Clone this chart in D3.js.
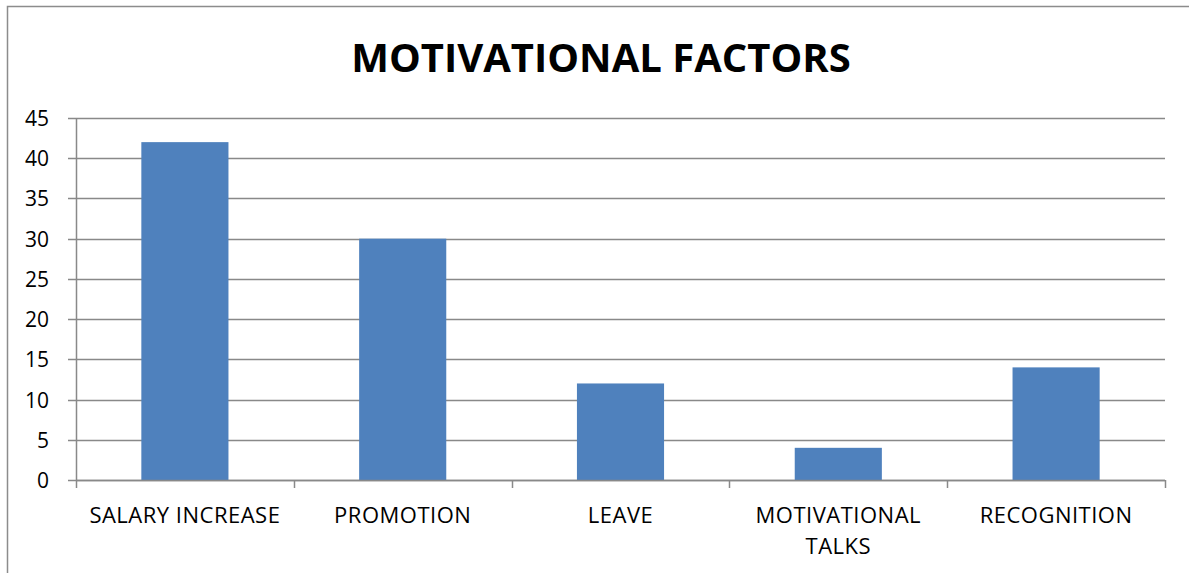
<!DOCTYPE html>
<html>
<head>
<meta charset="utf-8">
<script src="https://cdn.jsdelivr.net/npm/d3@7"></script>
<style>
body { margin: 0; background: #fff; }
text { font-family: "Open Sans", "Liberation Sans", sans-serif; }
</style>
</head>
<body>
<script>
var width = 1189;
var height = 573;

var categories = ["SALARY INCREASE", "PROMOTION", "LEAVE", "MOTIVATIONAL TALKS", "RECOGNITION"];
var values = [42, 30, 12, 4, 14];
var yTicks = [0, 5, 10, 15, 20, 25, 30, 35, 40, 45];
var title = "MOTIVATIONAL FACTORS";

var barcolor = "#4f81bd";
var gridcolor = "#898989";
var textcolor = "#000";

var plotLeft = 76, plotRight = 1165, plotTop = 118, plotBottom = 480;

var svg = d3.select("body")
	.append("svg")
	.attr("width", width)
	.attr("height", height)

// chart frame
svg.append("rect")
	.attr("x", 7.5)
	.attr("y", 6.5)
	.attr("width", width + 10)
	.attr("height", height + 10)
	.style("fill", "#fff")
	.style("stroke", "#8c8c8c")
	.style("stroke-width", 1.5)

var x = d3.scaleBand()
	.domain(categories)
	.range([plotLeft, plotRight])
	.paddingInner(0.6)
	.paddingOuter(0.3);

var xEdges = d3.scaleLinear().domain([0, categories.length]).range([plotLeft, plotRight]);

var y = d3.scaleLinear()
	.domain([0, 45])
	.range([plotBottom, plotTop]);

// gridlines + y ticks
svg.append("g").selectAll("line")
	.data(yTicks)
	.enter().append("line")
	.attr("x1", plotLeft - 8)
	.attr("x2", plotRight)
	.attr("y1", d => Math.round(y(d)) + 0.5)
	.attr("y2", d => Math.round(y(d)) + 0.5)
	.style("stroke", gridcolor)
	.style("stroke-width", 1.5)

svg.append("g").selectAll("text")
	.data(yTicks)
	.enter().append("text")
	.attr("x", plotLeft - 27)
	.attr("y", d => y(d))
	.attr("text-anchor", "end")
	.attr("dominant-baseline", "central")
	.attr("font-size", "21px")
	.attr("fill", textcolor)
	.text(d => d)

// y axis line
svg.append("line")
	.attr("x1", plotLeft + 0.5).attr("x2", plotLeft + 0.5)
	.attr("y1", plotTop).attr("y2", plotBottom)
	.style("stroke", gridcolor)
	.style("stroke-width", 1.5)

// bars
svg.append("g").selectAll("rect")
	.data(values)
	.enter().append("rect")
	.attr("x", (d, i) => x(categories[i]))
	.attr("y", d => y(d))
	.attr("width", x.bandwidth())
	.attr("height", d => y(0) - y(d))
	.style("fill", barcolor)

// x axis line + ticks
svg.append("line")
	.attr("x1", plotLeft).attr("x2", plotRight)
	.attr("y1", Math.round(y(0)) + 0.5).attr("y2", Math.round(y(0)) + 0.5)
	.style("stroke", gridcolor)
	.style("stroke-width", 1.5)

svg.append("g").selectAll("line")
	.data(d3.range(categories.length + 1))
	.enter().append("line")
	.attr("x1", d => Math.round(xEdges(d)) + 0.5)
	.attr("x2", d => Math.round(xEdges(d)) + 0.5)
	.attr("y1", y(0))
	.attr("y2", y(0) + 8)
	.style("stroke", gridcolor)
	.style("stroke-width", 1.5)

// category labels, wrap long ones
var labels = svg.append("g").selectAll("text")
	.data(categories)
	.enter().append("text")
	.attr("x", d => x(d) + x.bandwidth() / 2)
	.attr("y", 523)
	.attr("text-anchor", "middle")
	.attr("font-size", "22px")
	.attr("letter-spacing", "0.5px")
	.attr("fill", textcolor)

labels.each(function(d) {
	var t = d3.select(this);
	var lines = d == "MOTIVATIONAL TALKS" ? d.split(" ") : [d];
	lines.forEach((s, i) => {
		t.append("tspan")
			.attr("x", x(d) + x.bandwidth() / 2)
			.attr("dy", i == 0 ? 0 : 31)
			.text(s)
	})
})

svg.append("text")
	.attr("x", 601)
	.attr("y", 72)
	.attr("text-anchor", "middle")
	.attr("font-size", "40px")
	.attr("font-weight", "bold")
	.attr("fill", textcolor)
	.text(title)
</script>
</body>
</html>
